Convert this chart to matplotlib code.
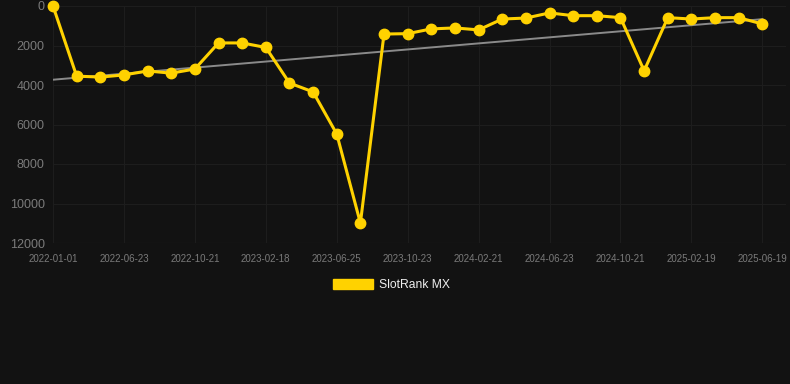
import matplotlib as mpl

mpl.use("Agg")

import matplotlib.pyplot as plt
import numpy as np
from matplotlib.patches import Patch

ranks = [0, 3550, 3600, 3490, 3290, 3400, 3190, 1870, 1870, 2100,
         3900, 4350, 6480, 10990, 1420, 1400, 1160, 1110, 1210, 660,
         610, 350, 490, 490, 590, 3280, 590, 660, 590, 590, 910]
tick_labels = ["2022-01-01", "2022-06-23", "2022-10-21", "2023-02-18",
               "2023-06-25", "2023-10-23", "2024-02-21", "2024-06-23",
               "2024-10-21", "2025-02-19", "2025-06-19"]
y_ticks = [0, 2000, 4000, 6000, 8000, 10000, 12000]

BG = "#121212"
YELLOW = "#ffd200"
GRID = "#1d1d1d"
TICK = "#7a7a7a"


def main():
    plt.rcParams["font.family"] = ["Liberation Sans", "DejaVu Sans"]
    fig = plt.figure(figsize=(7.9, 3.84), dpi=100, facecolor=BG)
    ax = fig.add_axes([53 / 790, 1 - 243 / 384, (786 - 53) / 790, (243 - 6) / 384])
    ax.set_facecolor(BG)

    x = np.arange(len(ranks))
    y = np.array(ranks)

    # linear trend through the ranks
    slope, intercept = np.polyfit(x, y, 1)
    ax.plot(x, slope * x + intercept, color="#8a8a8a", lw=1.4, zorder=2)

    ax.plot(x, y, color=YELLOW, lw=2.2, marker="o", markersize=7.5,
            clip_on=False, zorder=3)

    ax.set_xlim(0, 31)
    ax.set_ylim(12000, 0)
    ax.set_xticks(x[::3])
    ax.set_xticklabels(tick_labels)
    ax.set_yticks(y_ticks)

    ax.grid(True, color=GRID, lw=0.8)
    ax.set_axisbelow(True)
    for s in ax.spines.values():
        s.set_visible(False)
    ax.tick_params(axis="x", colors=TICK, labelsize=7, length=0, pad=8)
    ax.tick_params(axis="y", colors=TICK, labelsize=9, length=0, pad=6)
    ax.axhline(12000, color="#2a2a2a", lw=0.8, zorder=1)

    handle = Patch(facecolor=YELLOW, edgecolor=YELLOW)
    leg = fig.legend([handle], ["SlotRank MX"], loc="center",
                     bbox_to_anchor=(0.496, 1 - 285 / 384), frameon=False,
                     handlelength=3.3, handleheight=0.9, fontsize=8.7,
                     handletextpad=0.5)
    for t in leg.get_texts():
        t.set_color("#eeeeee")

    fig.savefig("out.png", dpi=100, facecolor=BG)


if __name__ == "__main__":
    main()
